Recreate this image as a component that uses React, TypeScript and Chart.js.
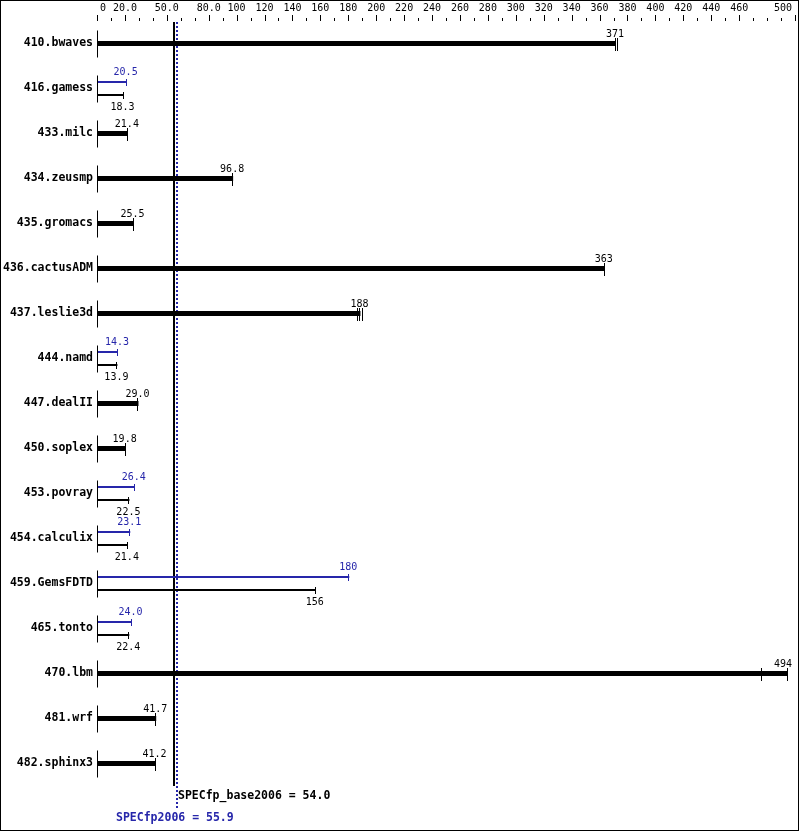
import React, { useEffect, useRef } from "react";
import { Chart, registerables } from "chart.js";

Chart.register(...registerables);

// ---------------- data ----------------
const categories = [
  "410.bwaves", "416.gamess", "433.milc", "434.zeusmp", "435.gromacs",
  "436.cactusADM", "437.leslie3d", "444.namd", "447.dealII", "450.soplex",
  "453.povray", "454.calculix", "459.GemsFDTD", "465.tonto", "470.lbm",
  "481.wrf", "482.sphinx3",
];
const baseScores = [371, 18.3, 21.4, 96.8, 25.5, 363, 188, 13.9, 29.0, 19.8, 22.5, 21.4, 156, 22.4, 494, 41.7, 41.2];
const peakScores = [371, 20.5, 21.4, 96.8, 25.5, 363, 188, 14.3, 29.0, 19.8, 26.4, 23.1, 180, 24.0, 494, 41.7, 41.2];
const baseLabels = ["371", "18.3", "21.4", "96.8", "25.5", "363", "188", "13.9", "29.0", "19.8", "22.5", "21.4", "156", "22.4", "494", "41.7", "41.2"];
const peakLabels = ["371", "20.5", "21.4", "96.8", "25.5", "363", "188", "14.3", "29.0", "19.8", "26.4", "23.1", "180", "24.0", "494", "41.7", "41.2"];
// individual run marks (end caps) drawn on the combined bars
const runMarks: number[][] = [
  [371, 372.5], [], [21.4], [96.8], [25.5], [363], [186.5, 188, 189.5], [], [29.0], [19.8],
  [], [], [], [], [476, 494], [41.7], [41.2],
];
const minorTicks = [
  0, 10, 20, 30, 40, 50, 60, 70, 80, 90, 100, 110, 120, 130, 140, 150, 160, 170, 180, 190,
  200, 210, 220, 230, 240, 250, 260, 270, 280, 290, 300, 310, 320, 330, 340, 350, 360, 370,
  380, 390, 400, 410, 420, 430, 440, 450, 460, 470, 480, 490, 500,
];
const labeledTicks = [0, 20, 50, 80, 100, 120, 140, 160, 180, 200, 220, 240, 260, 280, 300, 320, 340, 360, 380, 400, 420, 440, 460, 500];
const labeledTickText = ["0", "20.0", "50.0", "80.0", "100", "120", "140", "160", "180", "200", "220", "240", "260", "280", "300", "320", "340", "360", "380", "400", "420", "440", "460", "500"];
const SPEC_BASE = 54.0;
const SPEC_PEAK = 55.9;
const specBaseText = "SPECfp_base2006 = 54.0";
const specPeakText = "SPECfp2006 = 55.9";

const BLUE = "#2626aa";
const MONO = "'DejaVu Sans Mono', monospace";

const combined = baseScores.map((b, i) => (b === peakScores[i] ? b : null));
const peakOnly = peakScores.map((p, i) => (p !== baseScores[i] ? p : null));
const baseOnly = baseScores.map((b, i) => (b !== peakScores[i] ? b : null));

const specPlugin = {
  id: "specPlugin",
  beforeDraw(chart: any) {
    const ctx = chart.ctx;
    ctx.save();
    ctx.fillStyle = "#fff";
    ctx.fillRect(0, 0, chart.width, chart.height);
    ctx.restore();
  },
  beforeDatasetsDraw(chart: any) {
    const ctx = chart.ctx;
    const xs = chart.scales.x;
    const ys = chart.scales.y;
    const area = chart.chartArea;
    ctx.save();
    // left baseline segments
    const x0 = Math.round(xs.getPixelForValue(0)) - 0.5;
    ctx.strokeStyle = "#000";
    ctx.lineWidth = 1;
    categories.forEach((_, i) => {
      const cy = ys.getPixelForValue(i);
      ctx.beginPath();
      ctx.moveTo(x0, cy - 13);
      ctx.lineTo(x0, cy + 14);
      ctx.stroke();
    });
    // base reference line
    const xb = Math.round(xs.getPixelForValue(SPEC_BASE));
    ctx.fillStyle = "#000";
    ctx.fillRect(xb, area.top + 1, 2, area.bottom - area.top - 1);
    // peak reference line (dotted blue)
    const xp = Math.round(xs.getPixelForValue(SPEC_PEAK));
    ctx.fillStyle = BLUE;
    for (let y = area.top + 1; y < area.bottom + 22; y += 4) {
      ctx.fillRect(xp, y, 2, 2);
    }
    ctx.restore();
  },
  afterDatasetsDraw(chart: any) {
    const ctx = chart.ctx;
    const xs = chart.scales.x;
    const area = chart.chartArea;
    ctx.save();
    ctx.font = `10px ${MONO}`;
    ctx.textBaseline = "middle";
    ctx.textAlign = "left";

    const drawLabel = (text: string, x: number, y: number, color: string) => {
      ctx.fillStyle = color;
      const w = ctx.measureText(text).width;
      let left = x - w / 2 - 1;
      if (left + w > chart.width - 7) left = chart.width - 7 - w;
      ctx.fillText(text, left, y);
    };
    const cap = (x: number, y1: number, y2: number, color: string) => {
      ctx.fillStyle = color;
      ctx.fillRect(Math.round(x) - 1, Math.round(y1), 1, Math.round(y2 - y1));
    };

    const metaC = chart.getDatasetMeta(0);
    const metaP = chart.getDatasetMeta(1);
    const metaB = chart.getDatasetMeta(2);
    categories.forEach((_, i) => {
      if (combined[i] !== null) {
        const el = metaC.data[i];
        const cy = el.y;
        runMarks[i].forEach((v) => cap(xs.getPixelForValue(v), cy - 6, cy + 7, "#000"));
        drawLabel(baseLabels[i], el.x, cy - 9.5, "#000");
      } else {
        const ep = metaP.data[i];
        const eb = metaB.data[i];
        cap(ep.x, ep.y - 3, ep.y + 4, BLUE);
        cap(eb.x, eb.y - 3, eb.y + 4, "#000");
        drawLabel(peakLabels[i], ep.x, ep.y - 10, BLUE);
        drawLabel(baseLabels[i], eb.x, eb.y + 12, "#000");
      }
    });

    // bottom metric texts
    ctx.font = `bold 11.5px ${MONO}`;
    ctx.fillStyle = "#000";
    ctx.fillText(specBaseText, Math.round(xs.getPixelForValue(SPEC_BASE)) + 5, area.bottom + 10);
    ctx.fillStyle = BLUE;
    ctx.fillText(specPeakText, 116, area.bottom + 32);
    ctx.restore();
  },
  afterDraw(chart: any) {
    const ctx = chart.ctx;
    const xs = chart.scales.x;
    const area = chart.chartArea;
    ctx.save();
    // top axis ticks
    ctx.fillStyle = "#000";
    minorTicks.forEach((v) => {
      const x = Math.round(xs.getPixelForValue(v));
      const long = labeledTicks.indexOf(v) >= 0;
      const top = long ? area.top - 6 : area.top - 3;
      ctx.fillRect(x - 1, top, 1, area.top - top);
    });
    ctx.font = `10px ${MONO}`;
    ctx.textBaseline = "middle";
    ctx.textAlign = "left";
    labeledTicks.forEach((v, i) => {
      const text = labeledTickText[i];
      const x = xs.getPixelForValue(v);
      const w = ctx.measureText(text).width;
      let left = x - w / 2 - 1;
      if (left < area.left + 2) left = area.left + 2;
      if (left + w > chart.width - 7) left = chart.width - 7 - w;
      ctx.fillText(text, left, 8.5);
    });
    // outer border
    ctx.strokeStyle = "#000";
    ctx.lineWidth = 1;
    ctx.strokeRect(0.5, 0.5, chart.width - 1, chart.height - 1);
    ctx.restore();
  },
};

export default function App() {
  const ref = useRef<HTMLCanvasElement | null>(null);
  useEffect(() => {
    document.body.style.margin = "0";
    const canvas = ref.current!;
    const chart = new Chart(canvas, {
      type: "bar",
      data: {
        labels: categories,
        datasets: [
          {
            label: "combined",
            data: combined as any,
            backgroundColor: "#000",
            borderWidth: 0,
            categoryPercentage: 26 / 45,
            barPercentage: 5 / 26,
            skipNull: true,
          } as any,
          {
            label: "peak",
            data: peakOnly as any,
            backgroundColor: BLUE,
            borderWidth: 0,
            categoryPercentage: 26 / 45,
            barPercentage: 2 / 13,
            skipNull: true,
          } as any,
          {
            label: "base",
            data: baseOnly as any,
            backgroundColor: "#000",
            borderWidth: 0,
            categoryPercentage: 26 / 45,
            barPercentage: 2 / 13,
            skipNull: true,
          } as any,
        ],
      },
      options: {
        indexAxis: "y",
        responsive: false,
        animation: false,
        devicePixelRatio: 1,
        layout: { padding: { top: 21, bottom: 45, left: 0, right: 3 } },
        plugins: { legend: { display: false }, tooltip: { enabled: false } },
        scales: {
          x: { type: "linear", min: 0, max: 500, display: false },
          y: {
            type: "category",
            offset: true,
            grid: { display: false, drawTicks: false },
            border: { display: false },
            ticks: {
              color: "#000",
              autoSkip: false,
              padding: 5,
              font: { family: MONO, size: 11.5, weight: "bold" },
            },
            afterFit: (s: any) => {
              s.width = 98;
            },
          },
        },
      } as any,
      plugins: [specPlugin],
    });
    return () => chart.destroy();
  }, []);
  return <canvas ref={ref} width={799} height={831} style={{ display: "block" }} />;
}
